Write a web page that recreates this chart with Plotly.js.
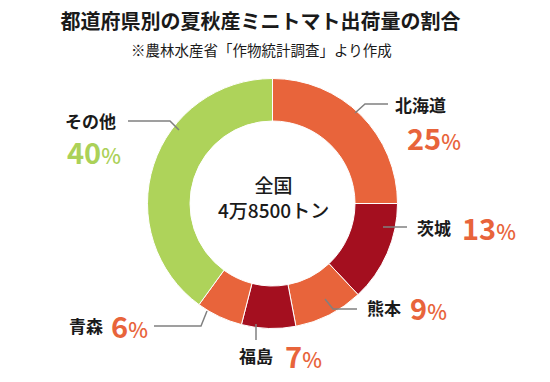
<!DOCTYPE html>
<html><head><meta charset="utf-8">
<script src="https://cdn.plot.ly/plotly-3.0.1.min.js"></script>
<style>html,body{margin:0;padding:0;background:#fff}#chart{width:550px;height:382px}</style>
</head><body><div id="chart"></div>
<script>
// ---- data ----
const regions = ["北海道", "茨城", "熊本", "福島", "青森", "その他"];
const shares = [25, 13, 9, 7, 6, 40];
const totalLabel = ["全国", "4万8500トン"];
const titleText = "都道府県別の夏秋産ミニトマト出荷量の割合";
const sourceText = "※農林水産省「作物統計調査」より作成";

// ---- styles / layout config ----
const ORANGE = "#E8643B", RED = "#A40F1F", GREEN = "#AED35A";
const sliceColors = [ORANGE, RED, ORANGE, RED, ORANGE, GREEN];
const pctColors = [ORANGE, ORANGE, ORANGE, ORANGE, ORANGE, "#ABD158"];
const FONT = "'Noto Sans CJK JP', 'Noto Sans', sans-serif";
const W = 550, H = 382;
const CX = 272.5, CY = 203.5, R = 125;
const px = x => x / W, py = y => 1 - y / H;

// label placement: name position, percent position, leader path in px
const labelPlace = [
  {name:[393,105], pct:[405,137], path:[[355,113],[365,104],[388,104]]},
  {name:[415,227], pct:[460,227], path:[[383,227],[407,227]]},
  {name:[365,307], pct:[408,307], path:[[325,299],[333,309],[357,309]]},
  {name:[237,355], pct:[283,355], path:[[256,324],[256,340]]},
  {name:[67,325],  pct:[109,325], path:[[207,311],[201,326],[154,326]]},
  {name:[63,120],  pct:[65,151],  path:[[128,121],[170,121],[179,130]]}
];

const annotations = [];
const shapes = [];
regions.forEach((r, i) => {
  const p = labelPlace[i];
  annotations.push({xref:"paper", yref:"paper", x:px(p.name[0]), y:py(p.name[1]),
    xanchor:"left", yanchor:"middle", showarrow:false, text:r,
    font:{family:FONT, size:17, color:"#1a1a1a", weight:700}});
  annotations.push({xref:"paper", yref:"paper", x:px(p.pct[0]), y:py(p.pct[1]),
    xanchor:"left", yanchor:"middle", showarrow:false,
    text: shares[i] + "<span style='font-size:21px;font-weight:500'>%</span>",
    font:{family:FONT, size:29, color:pctColors[i], weight:700}});
  const d = p.path.map((pt, k) => (k ? "L" : "M") + px(pt[0]) + "," + py(pt[1])).join(" ");
  shapes.push({type:"path", xref:"paper", yref:"paper", path:d,
    line:{color:"#808080", width:1.5}});
});

annotations.push({xref:"paper", yref:"paper", x:px(273), y:py(196.5), xanchor:"center", yanchor:"middle",
  showarrow:false, text: totalLabel.join("<br>"),
  font:{family:FONT, size:19, color:"#1a1a1a", weight:500}});
annotations.push({xref:"paper", yref:"paper", x:px(261.5), y:py(50), xanchor:"center", yanchor:"middle",
  showarrow:false, text: sourceText, font:{family:FONT, size:14.5, color:"#1a1a1a"}});

const trace = {
  type:"pie", labels:regions, values:shares, sort:false, direction:"clockwise", rotation:0,
  hole:0.66, textinfo:"none", hoverinfo:"label+percent",
  marker:{colors:sliceColors, line:{color:"#ffffff", width:1}},
  domain:{x:[px(CX - R), px(CX + R)], y:[1 - (CY + R) / H, 1 - (CY - R) / H]},
  showlegend:false
};

const layout = {
  width:W, height:H, margin:{l:0, r:0, t:0, b:0},
  paper_bgcolor:"#fff", plot_bgcolor:"#fff",
  title:{text:"<b>" + titleText + "</b>", x:px(260.5), xanchor:"center", y:py(22), yanchor:"middle",
    font:{family:FONT, size:20, color:"#1a1a1a"}},
  annotations, shapes, showlegend:false
};

Plotly.newPlot("chart", [trace], layout, {displayModeBar:false, staticPlot:true});
</script></body></html>
